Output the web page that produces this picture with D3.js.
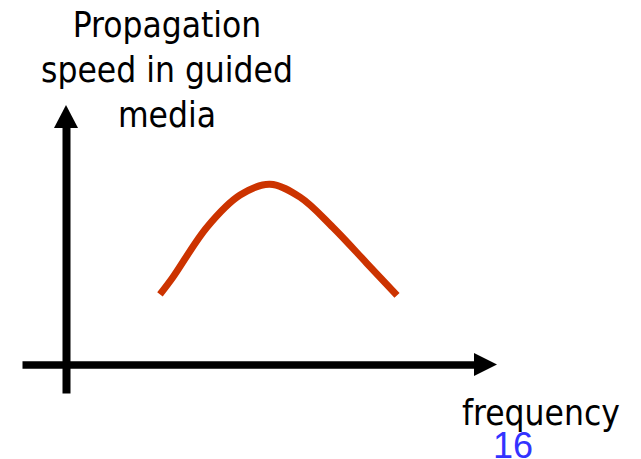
<!DOCTYPE html>
<html>
<head>
<meta charset="utf-8">
<script src="https://cdn.jsdelivr.net/npm/d3@7"></script>
<style>
  html, body { margin: 0; padding: 0; background: #fff; }
  svg { display: block; }
  .lbl { font-family: "DejaVu Sans Condensed", "DejaVu Sans", sans-serif; font-stretch: condensed; }
</style>
</head>
<body>
<svg id="chart" width="641" height="459"></svg>
<script>
// curve samples (frequency vs propagation speed, arbitrary units 0..10)
var frequency = [2.18, 2.48, 3.27, 4.04, 4.73, 5.43, 6.19, 6.98, 7.68];
var speed     = [2.70, 3.36, 5.29, 6.53, 6.95, 6.45, 5.29, 3.90, 2.66];
var titleLines = ["Propagation", "speed in guided", "media"];
var xLabel = "frequency";
var pageNumber = "16";

var svg = d3.select("#chart"),
    x = d3.scaleLinear().domain([0, 10]).range([66, 497]),
    y = d3.scaleLinear().domain([0, 10]).range([364.5, 105]),
    head = 23;

// x axis: plain thick domain line, no ticks
svg.append("g")
   .attr("transform", "translate(0," + y(0) + ")")
   .call(d3.axisBottom(x.copy().range([22, x.range()[1] - head + 2])).tickValues([]).tickSizeOuter(0))
   .select(".domain")
   .attr("stroke", "#000").attr("stroke-width", 7.5);

svg.append("polygon")
   .attr("points", [[x(10), y(0)], [x(10) - head, y(0) - 11.5], [x(10) - head, y(0) + 11.5]].join(" "))
   .attr("fill", "#000");

// y axis
svg.append("g")
   .attr("transform", "translate(" + x(0) + ",0)")
   .call(d3.axisLeft(y.copy().range([393, y.range()[1] + head - 2])).tickValues([]).tickSizeOuter(0))
   .select(".domain")
   .attr("stroke", "#000").attr("stroke-width", 8);

svg.append("polygon")
   .attr("points", [[x(0), y(10)], [x(0) - 12, y(10) + head], [x(0) + 12, y(10) + head]].join(" "))
   .attr("fill", "#000");

// the curve
var line = d3.line()
    .x(function (d) { return x(d[0]); })
    .y(function (d) { return y(d[1]); })
    .curve(d3.curveCatmullRom.alpha(0.5));

svg.append("path")
   .datum(d3.zip(frequency, speed))
   .attr("d", line)
   .attr("fill", "none")
   .attr("stroke", "#cc3300")
   .attr("stroke-width", 7)
   .attr("stroke-linecap", "butt");

// axis title
svg.append("text")
   .attr("class", "lbl")
   .attr("text-anchor", "middle")
   .attr("font-size", 35)
   .selectAll("tspan")
   .data(titleLines)
   .enter().append("tspan")
   .attr("x", 167)
   .attr("y", function (d, i) { return 37 + i * 45; })
   .text(function (d) { return d; });

svg.append("text")
   .attr("class", "lbl")
   .attr("x", 462).attr("y", 425)
   .attr("font-size", 35)
   .text(xLabel);

svg.append("text")
   .attr("x", 493).attr("y", 458)
   .attr("font-family", "'Liberation Sans', Arial, sans-serif")
   .attr("font-size", 36)
   .attr("fill", "#3333ff")
   .text(pageNumber);
</script>
</body>
</html>
